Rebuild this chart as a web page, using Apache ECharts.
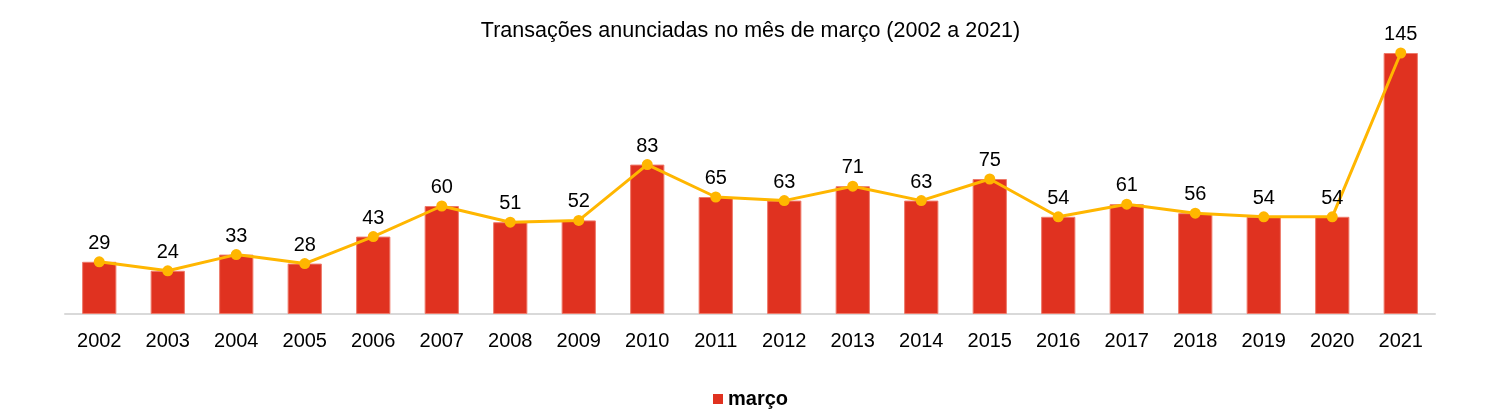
<!DOCTYPE html>
<html><head><meta charset="utf-8">
<script src="https://cdn.jsdelivr.net/npm/echarts@6/dist/echarts.min.js"></script>
<style>html,body{margin:0;padding:0;background:#fff}#c{width:1501px;height:416px}</style>
</head><body><div id="c"></div>
<script>
const years = ['2002','2003','2004','2005','2006','2007','2008','2009','2010','2011','2012','2013','2014','2015','2016','2017','2018','2019','2020','2021'];
const marco = [29,24,33,28,43,60,51,52,83,65,63,71,63,75,54,61,56,54,54,145];
const titleText = 'Transações anunciadas no mês de março (2002 a 2021)';
const seriesName = 'março';
const FONT = 'Liberation Sans, Arial, sans-serif';
const chart = echarts.init(document.getElementById('c'));
chart.setOption({
  animation: false,
  title: { text: titleText, left: 'center', top: 15, textStyle: { fontFamily: FONT, fontSize: 21.5, fontWeight: 'normal', color: '#000' } },
  legend: { data: [seriesName], top: 384, left: 'center', itemWidth: 10, itemHeight: 10, itemGap: 6, icon: 'rect',
    itemStyle: { borderWidth: 0 },
    textStyle: { fontFamily: FONT, fontSize: 20, fontWeight: 'bold', color: '#000' } },
  grid: { left: 65, right: 66, top: 26, bottom: 102 },
  xAxis: { type: 'category', data: years, axisTick: { show: false },
    axisLine: { lineStyle: { color: '#d9d9d9', width: 2 } },
    axisLabel: { fontFamily: FONT, fontSize: 20, color: '#000', margin: 17 } },
  yAxis: { type: 'value', min: 0, max: 160, show: false, splitLine: { show: false } },
  series: [
    { name: seriesName, type: 'bar', data: marco, barWidth: '50%',
      itemStyle: { color: '#e03220', borderColor: '#ee7a6a', borderWidth: 1 } },
    { name: 'linha', type: 'line', data: marco, symbol: 'circle', symbolSize: 11,
      lineStyle: { color: '#ffb600', width: 3 }, itemStyle: { color: '#ffb600' },
      label: { show: true, position: 'top', distance: 3, fontFamily: FONT, fontSize: 20, color: '#000' } }
  ]
});
</script></body></html>
